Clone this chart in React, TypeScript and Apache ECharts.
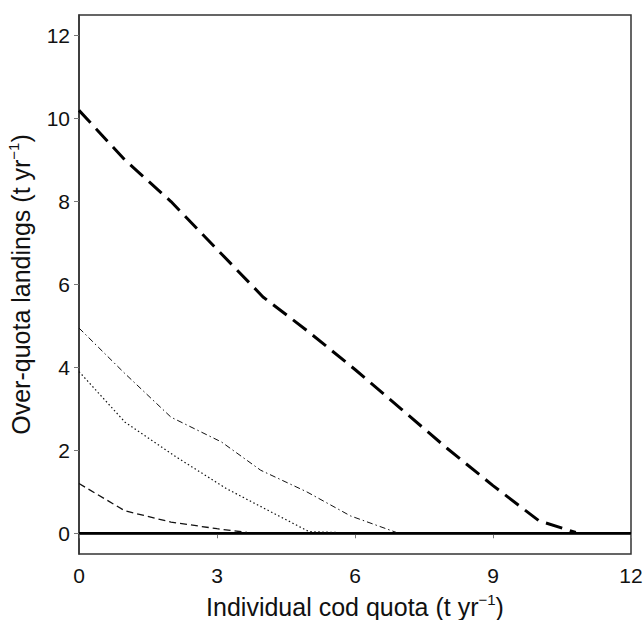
import React, { useEffect, useRef } from "react";
import * as echarts from "echarts";

const yTicks = [0, 2, 4, 6, 8, 10, 12];

const thickX = [0, 1, 2, 3, 4, 5, 6, 7, 8, 9, 10, 10.8];
const thickY = [10.2, 9.0, 8.0, 6.85, 5.7, 4.85, 3.95, 3.0, 2.05, 1.15, 0.3, 0.02];

const dashDotX = [0, 1, 2, 3.1, 3.95, 4.95, 5.9, 6.9];
const dashDotY = [4.95, 3.85, 2.8, 2.2, 1.52, 1.0, 0.42, 0.02];

const dottedX = [0, 1, 2.1, 3.2, 4.2, 5.0, 5.6];
const dottedY = [3.9, 2.68, 1.85, 1.08, 0.5, 0.04, 0.02];

const dashedX = [0, 1, 2, 3, 3.65];
const dashedY = [1.2, 0.54, 0.27, 0.11, 0.02];

const zeroX = [0, 12];
const zeroY = [0, 0];

const pairs = (xs: number[], ys: number[]) => xs.map((x, i) => [x, ys[i]]);

export default function App() {
  const ref = useRef<HTMLDivElement>(null);
  useEffect(() => {
    if (!ref.current) return;
    const chart = echarts.init(ref.current, null, { renderer: "svg" });
    const font = "Liberation Sans, Arial, Helvetica, sans-serif";
    const nameStyle = {
      fontFamily: font,
      fontSize: 25,
      color: "#111",
      lineHeight: 30,
      rich: {
        sup: { fontFamily: font, fontSize: 15, color: "#111", verticalAlign: "top", lineHeight: 15 },
      },
    };
    chart.setOption({
      animation: false,
      backgroundColor: "#fff",
      grid: {
        left: 79,
        right: 12,
        top: 15,
        bottom: 66,
        show: true,
        borderColor: "#333",
        borderWidth: 1.5,
        containLabel: false,
        outerBoundsMode: "none",
      },
      xAxis: {
        type: "value",
        min: 0,
        max: 12,
        interval: 3,
        name: "Individual cod quota (t yr{sup|−1})",
        nameLocation: "middle",
        nameGap: 38,
        nameTextStyle: nameStyle,
        axisLine: { show: true, lineStyle: { color: "#333", width: 1.5 } },
        axisTick: { show: true, length: 5, lineStyle: { color: "#777" } },
        axisLabel: { fontFamily: font, fontSize: 21, color: "#111", margin: 11 },
        splitLine: { show: false },
      },
      yAxis: {
        type: "value",
        min: -0.5,
        max: 12.5,
        name: "Over-quota landings (t yr{sup|−1})",
        nameLocation: "middle",
        nameGap: 35,
        nameTextStyle: nameStyle,
        axisLine: { show: true, lineStyle: { color: "#333", width: 1.5 } },
        axisTick: { show: true, length: 5, customValues: yTicks, lineStyle: { color: "#777" } },
        axisLabel: { fontFamily: font, fontSize: 21, color: "#111", margin: 9, customValues: yTicks },
        splitLine: { show: false },
      },
      series: [
        {
          type: "line",
          data: pairs(zeroX, zeroY),
          symbol: "none",
          lineStyle: { color: "#000", width: 2.5, type: "solid" },
        },
        {
          type: "line",
          data: pairs(thickX, thickY),
          symbol: "none",
          lineStyle: { color: "#000", width: 3, type: [17, 8] },
        },
        {
          type: "line",
          data: pairs(dashDotX, dashDotY),
          symbol: "none",
          lineStyle: { color: "#111", width: 1, type: [6, 3, 1.5, 3] },
        },
        {
          type: "line",
          data: pairs(dottedX, dottedY),
          symbol: "none",
          lineStyle: { color: "#111", width: 1.2, type: [1.5, 2.5] },
        },
        {
          type: "line",
          data: pairs(dashedX, dashedY),
          symbol: "none",
          lineStyle: { color: "#111", width: 1.3, type: [7, 4] },
        },
      ],
    });
    return () => chart.dispose();
  }, []);
  return (
    <div
      ref={ref}
      style={{ position: "absolute", left: 0, top: 0, width: 643, height: 620 }}
    />
  );
}
